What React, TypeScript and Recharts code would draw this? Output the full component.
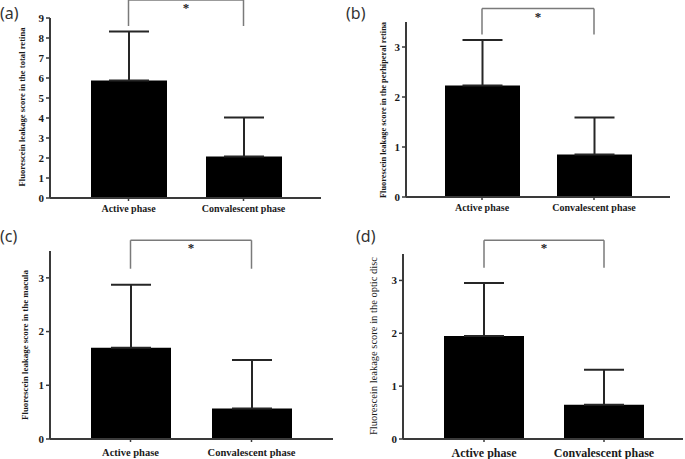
import { Bar, BarChart, ErrorBar, ReferenceLine, XAxis, YAxis } from "recharts";

const categories = ["Active phase", "Convalescent phase"];

// mean and SD for each panel
const totalRetinaMean = [5.88, 2.07];
const totalRetinaSd = [2.44, 1.95];
const peripheralMean = [2.23, 0.85];
const peripheralSd = [0.91, 0.74];
const maculaMean = [1.7, 0.57];
const maculaSd = [1.17, 0.9];
const opticDiscMean = [1.95, 0.65];
const opticDiscSd = [1.0, 0.66];

// significance bracket heights (data units) for panels a-d
const bracketTop = [9.9, 3.77, 3.7, 3.76];
const bracketFoot = [8.6, 3.25, 3.17, 3.24];

const totalTicks = [0, 1, 2, 3, 4, 5, 6, 7, 8, 9];
const subTicks = [0, 1, 2, 3];

const titles = [
  "Fluorescein leakage score in the total retina",
  "Fluorescein leakage score in the perhiperal retina",
  "Fluorescein leakage score in the macula",
  "Fluorescein leakage score in the optic disc",
];
const panelLetters = ["(a)", "(b)", "(c)", "(d)"];

const serif = '"Liberation Serif", "Times New Roman", serif';
const axisColor = "#3a3a3a";

interface PanelProps {
  left: number;
  top: number;
  width: number;
  height: number;
  margin: { top: number; right: number; bottom: number; left: number };
  yWidth: number;
  means: number[];
  sds: number[];
  domain: [number, number];
  ticks: number[];
  barSize: number;
  pad: { left: number; right: number };
  idx: number;
  fontSize: number;
  xGap: number;
}

const Star = (props: any) => {
  const vb = props.viewBox || {};
  const x = (vb.x || 0) + (vb.width || 0) / 2;
  const y = (vb.y || 0) + 12;
  return (
    <text
      x={x}
      y={y}
      textAnchor="middle"
      fill="#222"
      fontSize={13}
      fontWeight="bold"
      fontFamily={serif}
    >
      *
    </text>
  );
};

const Panel = ({
  left,
  top,
  width,
  height,
  margin,
  yWidth,
  means,
  sds,
  domain,
  ticks,
  barSize,
  pad,
  idx,
  fontSize,
  xGap,
}: PanelProps) => {
  const data = categories.map((name, i) => ({
    name,
    mean: means[i],
    err: [0, sds[i]],
  }));
  const [first, second] = categories;
  const tickStyle = {
    fill: "#1a1a1a",
    fontSize,
    fontWeight: "bold" as const,
    fontFamily: serif,
  };
  const bracket = { stroke: "#7a7a7a", strokeWidth: 1.5, ifOverflow: "visible" as const };
  return (
    <div style={{ position: "absolute", left, top }}>
      <BarChart width={width} height={height} data={data} margin={margin}>
        <XAxis
          dataKey="name"
          interval={0}
          padding={pad}
          height={22}
          tickSize={3}
          tickMargin={xGap}
          axisLine={{ stroke: axisColor, strokeWidth: 2 }}
          tickLine={{ stroke: axisColor, strokeWidth: 1.5 }}
          tick={tickStyle}
        />
        <YAxis
          width={yWidth}
          domain={domain}
          ticks={ticks}
          interval={0}
          tickSize={4}
          tickMargin={2}
          axisLine={{ stroke: axisColor, strokeWidth: 2 }}
          tickLine={{ stroke: axisColor, strokeWidth: 1.5 }}
          tick={{ ...tickStyle, fontSize: 11 }}
        />
        <Bar dataKey="mean" fill="#000" barSize={barSize} isAnimationActive={false}>
          <ErrorBar dataKey="err" direction="y" width={20} stroke="#262626" strokeWidth={2} />
        </Bar>
        <ReferenceLine
          segment={[
            { x: first, y: bracketFoot[idx] },
            { x: first, y: bracketTop[idx] },
          ]}
          {...bracket}
        />
        <ReferenceLine
          segment={[
            { x: first, y: bracketTop[idx] },
            { x: second, y: bracketTop[idx] },
          ]}
          {...bracket}
          label={<Star />}
        />
        <ReferenceLine
          segment={[
            { x: second, y: bracketTop[idx] },
            { x: second, y: bracketFoot[idx] },
          ]}
          {...bracket}
        />
      </BarChart>
    </div>
  );
};

// rotated y titles and panel letters: [x, centreY, length, bold]
const titlePos: [number, number, number, boolean][] = [
  [22, 107, 159, true],
  [383, 110, 176, true],
  [25, 345, 150, true],
  [373, 346, 178, false],
];
const letterPos: [number, number][] = [
  [0, 19],
  [346, 19],
  [0, 242],
  [356, 242],
];

export default function App() {
  return (
    <div
      style={{
        position: "absolute",
        left: 0,
        top: 0,
        width: 685,
        height: 459,
        background: "#fff",
        overflow: "hidden",
      }}
    >
      <Panel
        left={0}
        top={0}
        width={340}
        height={225}
        margin={{ top: 18, right: 19, bottom: 5, left: 0 }}
        yWidth={50}
        means={totalRetinaMean}
        sds={totalRetinaSd}
        domain={[0, 9]}
        ticks={totalTicks}
        barSize={76}
        pad={{ left: 21, right: 20 }}
        idx={0}
        fontSize={10}
        xGap={4}
      />
      <Panel
        left={340}
        top={0}
        width={345}
        height={225}
        margin={{ top: 22, right: 15, bottom: 6, left: 0 }}
        yWidth={66}
        means={peripheralMean}
        sds={peripheralSd}
        domain={[0, 3.5]}
        ticks={subTicks}
        barSize={75}
        pad={{ left: 20, right: 20 }}
        idx={1}
        fontSize={10}
        xGap={4}
      />
      <Panel
        left={0}
        top={225}
        width={340}
        height={234}
        margin={{ top: 26, right: 7, bottom: -2, left: 0 }}
        yWidth={50}
        means={maculaMean}
        sds={maculaSd}
        domain={[0, 3.5]}
        ticks={subTicks}
        barSize={80}
        pad={{ left: 20, right: 21 }}
        idx={2}
        fontSize={10.5}
        xGap={7}
      />
      <Panel
        left={340}
        top={225}
        width={345}
        height={234}
        margin={{ top: 29, right: 2, bottom: -2, left: 0 }}
        yWidth={63}
        means={opticDiscMean}
        sds={opticDiscSd}
        domain={[0, 3.5]}
        ticks={subTicks}
        barSize={80}
        pad={{ left: 21, right: 19 }}
        idx={3}
        fontSize={12}
        xGap={6}
      />
      <svg
        width={685}
        height={459}
        style={{ position: "absolute", left: 0, top: 0, pointerEvents: "none" }}
      >
        {titles.map((t, i) => {
          const [x, cy, len, bold] = titlePos[i];
          return (
            <text
              key={t}
              x={x}
              y={cy}
              transform={`rotate(-90 ${x} ${cy})`}
              textAnchor="middle"
              dominantBaseline="central"
              textLength={len}
              lengthAdjust="spacingAndGlyphs"
              fontFamily={serif}
              fontWeight={bold ? "bold" : "normal"}
              fontSize={bold ? 8.5 : 10.5}
              fill="#1a1a1a"
            >
              {t}
            </text>
          );
        })}
        {panelLetters.map((l, i) => (
          <text
            key={l}
            x={letterPos[i][0]}
            y={letterPos[i][1]}
            fontFamily='"Noto Sans", "DejaVu Sans", sans-serif'
            fontSize={16}
            fill="#333"
          >
            {l}
          </text>
        ))}
      </svg>
    </div>
  );
}
